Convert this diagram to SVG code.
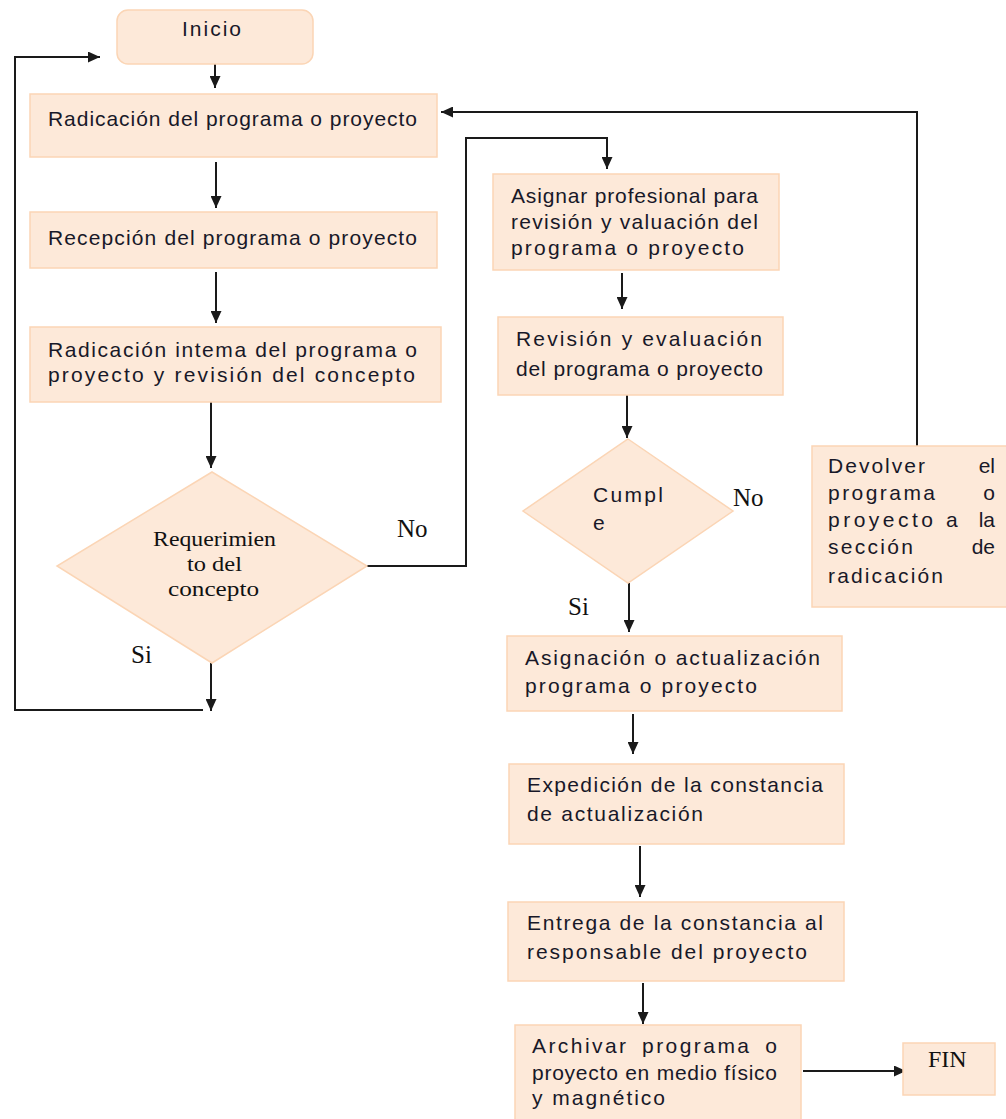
<svg xmlns="http://www.w3.org/2000/svg" width="1006" height="1119" viewBox="0 0 1006 1119">
  <style>
    .box { fill: #fde9d9; stroke: #fbd5b5; stroke-width: 1.5; }
    .t { font-family: "Liberation Sans", Arial, sans-serif; font-size: 21px; fill: #181828; }
    .s { font-family: "Liberation Serif", "Times New Roman", serif; font-size: 21px; fill: #111; }
    .fin { font-family: "Liberation Serif", "Times New Roman", serif; font-size: 24px; fill: #111; }
    .lbl { font-family: "Liberation Serif", "Times New Roman", serif; font-size: 25px; fill: #111; }
    .c { fill: none; stroke: #1a1a1a; stroke-width: 2; marker-end: url(#arrow); }
  </style>
  <defs>
    <marker id="arrow" markerUnits="userSpaceOnUse" markerWidth="12" markerHeight="11" refX="12" refY="5.5" orient="auto">
      <path d="M0,0 L12,5.5 L0,11 z" fill="#1a1a1a"/>
    </marker>
  </defs>
  <rect width="1006" height="1119" fill="#fff"/>

  <!-- connectors -->
  <g id="connectors">
    <line class="c" x1="215" y1="64" x2="215" y2="88"/>
    <line class="c" x1="216" y1="162" x2="216" y2="208"/>
    <line class="c" x1="216" y1="272" x2="216" y2="323"/>
    <line class="c" x1="211" y1="402" x2="211" y2="468"/>
    <polyline class="c" points="367,566 466,566 466,138 607,138 607,169"/>
    <line class="c" x1="211" y1="663" x2="211" y2="711"/>
    <polyline class="c" points="203,710 15,710 15,57 100,57"/>
    <line class="c" x1="622" y1="273" x2="622" y2="309"/>
    <line class="c" x1="627" y1="395" x2="627" y2="438"/>
    <line class="c" x1="629" y1="583" x2="629" y2="632"/>
    <polyline class="c" points="917,446 917,112 441,112"/>
    <line class="c" x1="633" y1="714" x2="633" y2="754"/>
    <line class="c" x1="640" y1="846" x2="640" y2="897"/>
    <line class="c" x1="643" y1="983" x2="643" y2="1024"/>
    <line class="c" x1="803" y1="1071" x2="906" y2="1071"/>
  </g>

  <!-- start -->
  <g id="inicio">
    <rect class="box" x="117" y="10" width="196" height="54" rx="11"/>
    <text class="t" x="182" y="36" textLength="59" lengthAdjust="spacing">Inicio</text>
  </g>

  <g id="radicacion">
    <rect class="box" x="30" y="94" width="407" height="63"/>
    <text class="t" x="48" y="126" textLength="369" lengthAdjust="spacing">Radicación del programa o proyecto</text>
  </g>

  <g id="recepcion">
    <rect class="box" x="30" y="212" width="407" height="56"/>
    <text class="t" x="48" y="245" textLength="369" lengthAdjust="spacing">Recepción del programa o proyecto</text>
  </g>

  <g id="radicacion-interna">
    <rect class="box" x="30" y="327" width="411" height="75"/>
    <text class="t" x="48" y="357" textLength="369" lengthAdjust="spacing">Radicación intema del programa o</text>
    <text class="t" x="48" y="382" textLength="367" lengthAdjust="spacing">proyecto y revisión del concepto</text>
  </g>

  <g id="decision-concepto">
    <polygon class="box" points="212,472 367,566 212,663 57,566" stroke="#fce3cf"/>
    <text class="s" x="153" y="546" textLength="123" lengthAdjust="spacingAndGlyphs">Requerimien</text>
    <text class="s" x="187" y="571" textLength="55" lengthAdjust="spacingAndGlyphs">to del</text>
    <text class="s" x="168" y="596" textLength="91" lengthAdjust="spacingAndGlyphs">concepto</text>
    <text class="lbl" x="397" y="537">No</text>
    <text class="lbl" x="131" y="663">Si</text>
  </g>

  <g id="asignar">
    <rect class="box" x="493" y="174" width="286" height="96"/>
    <text class="t" x="511" y="203" textLength="247" lengthAdjust="spacing">Asignar profesional para</text>
    <text class="t" x="511" y="229" textLength="247" lengthAdjust="spacing">revisión y valuación del</text>
    <text class="t" x="511" y="255" textLength="233" lengthAdjust="spacing">programa o proyecto</text>
  </g>

  <g id="revision">
    <rect class="box" x="498" y="317" width="285" height="78"/>
    <text class="t" x="516" y="346" textLength="246" lengthAdjust="spacing">Revisión y evaluación</text>
    <text class="t" x="516" y="376" textLength="247" lengthAdjust="spacing">del programa o proyecto</text>
  </g>

  <g id="decision-cumple">
    <polygon class="box" points="628,439 733,511 628,583 523,511" stroke="#fce3cf"/>
    <text class="t" x="593" y="502" textLength="70" lengthAdjust="spacing">Cumpl</text>
    <text class="t" x="593" y="530">e</text>
    <text class="lbl" x="733" y="506">No</text>
    <text class="lbl" x="568" y="615">Si</text>
  </g>

  <g id="devolver">
    <rect class="box" x="812" y="446" width="200" height="161"/>
    <text class="t" x="828" y="473" textLength="97" lengthAdjust="spacing">Devolver</text>
    <text class="t" x="995" y="473" text-anchor="end">el</text>
    <text class="t" x="828" y="500" textLength="107" lengthAdjust="spacing">programa</text>
    <text class="t" x="995" y="500" text-anchor="end">o</text>
    <text class="t" x="828" y="527" textLength="105" lengthAdjust="spacing">proyecto</text>
    <text class="t" x="946" y="527">a</text>
    <text class="t" x="995" y="527" text-anchor="end">la</text>
    <text class="t" x="828" y="554" textLength="85" lengthAdjust="spacing">sección</text>
    <text class="t" x="995" y="554" text-anchor="end">de</text>
    <text class="t" x="828" y="583" textLength="115" lengthAdjust="spacing">radicación</text>
  </g>

  <g id="asignacion">
    <rect class="box" x="507" y="636" width="335" height="75"/>
    <text class="t" x="525" y="665" textLength="295" lengthAdjust="spacing">Asignación o actualización</text>
    <text class="t" x="525" y="693" textLength="232" lengthAdjust="spacing">programa o proyecto</text>
  </g>

  <g id="expedicion">
    <rect class="box" x="509" y="764" width="335" height="80"/>
    <text class="t" x="527" y="792" textLength="296" lengthAdjust="spacing">Expedición de la constancia</text>
    <text class="t" x="527" y="821" textLength="176" lengthAdjust="spacing">de actualización</text>
  </g>

  <g id="entrega">
    <rect class="box" x="508" y="902" width="336" height="79"/>
    <text class="t" x="527" y="930" textLength="296" lengthAdjust="spacing">Entrega de la constancia al</text>
    <text class="t" x="527" y="959" textLength="280" lengthAdjust="spacing">responsable del proyecto</text>
  </g>

  <g id="archivar">
    <rect class="box" x="515" y="1025" width="286" height="100"/>
    <text class="t" x="532" y="1053" textLength="94" lengthAdjust="spacing">Archivar</text>
    <text class="t" x="642" y="1053" textLength="107" lengthAdjust="spacing">programa</text>
    <text class="t" x="777" y="1053" text-anchor="end">o</text>
    <text class="t" x="532" y="1080" textLength="245" lengthAdjust="spacing">proyecto en medio físico</text>
    <text class="t" x="532" y="1105" textLength="133" lengthAdjust="spacing">y magnético</text>
  </g>

  <g id="fin">
    <rect class="box" x="903" y="1043" width="92" height="52"/>
    <text class="fin" x="928" y="1067">FIN</text>
  </g>
</svg>
